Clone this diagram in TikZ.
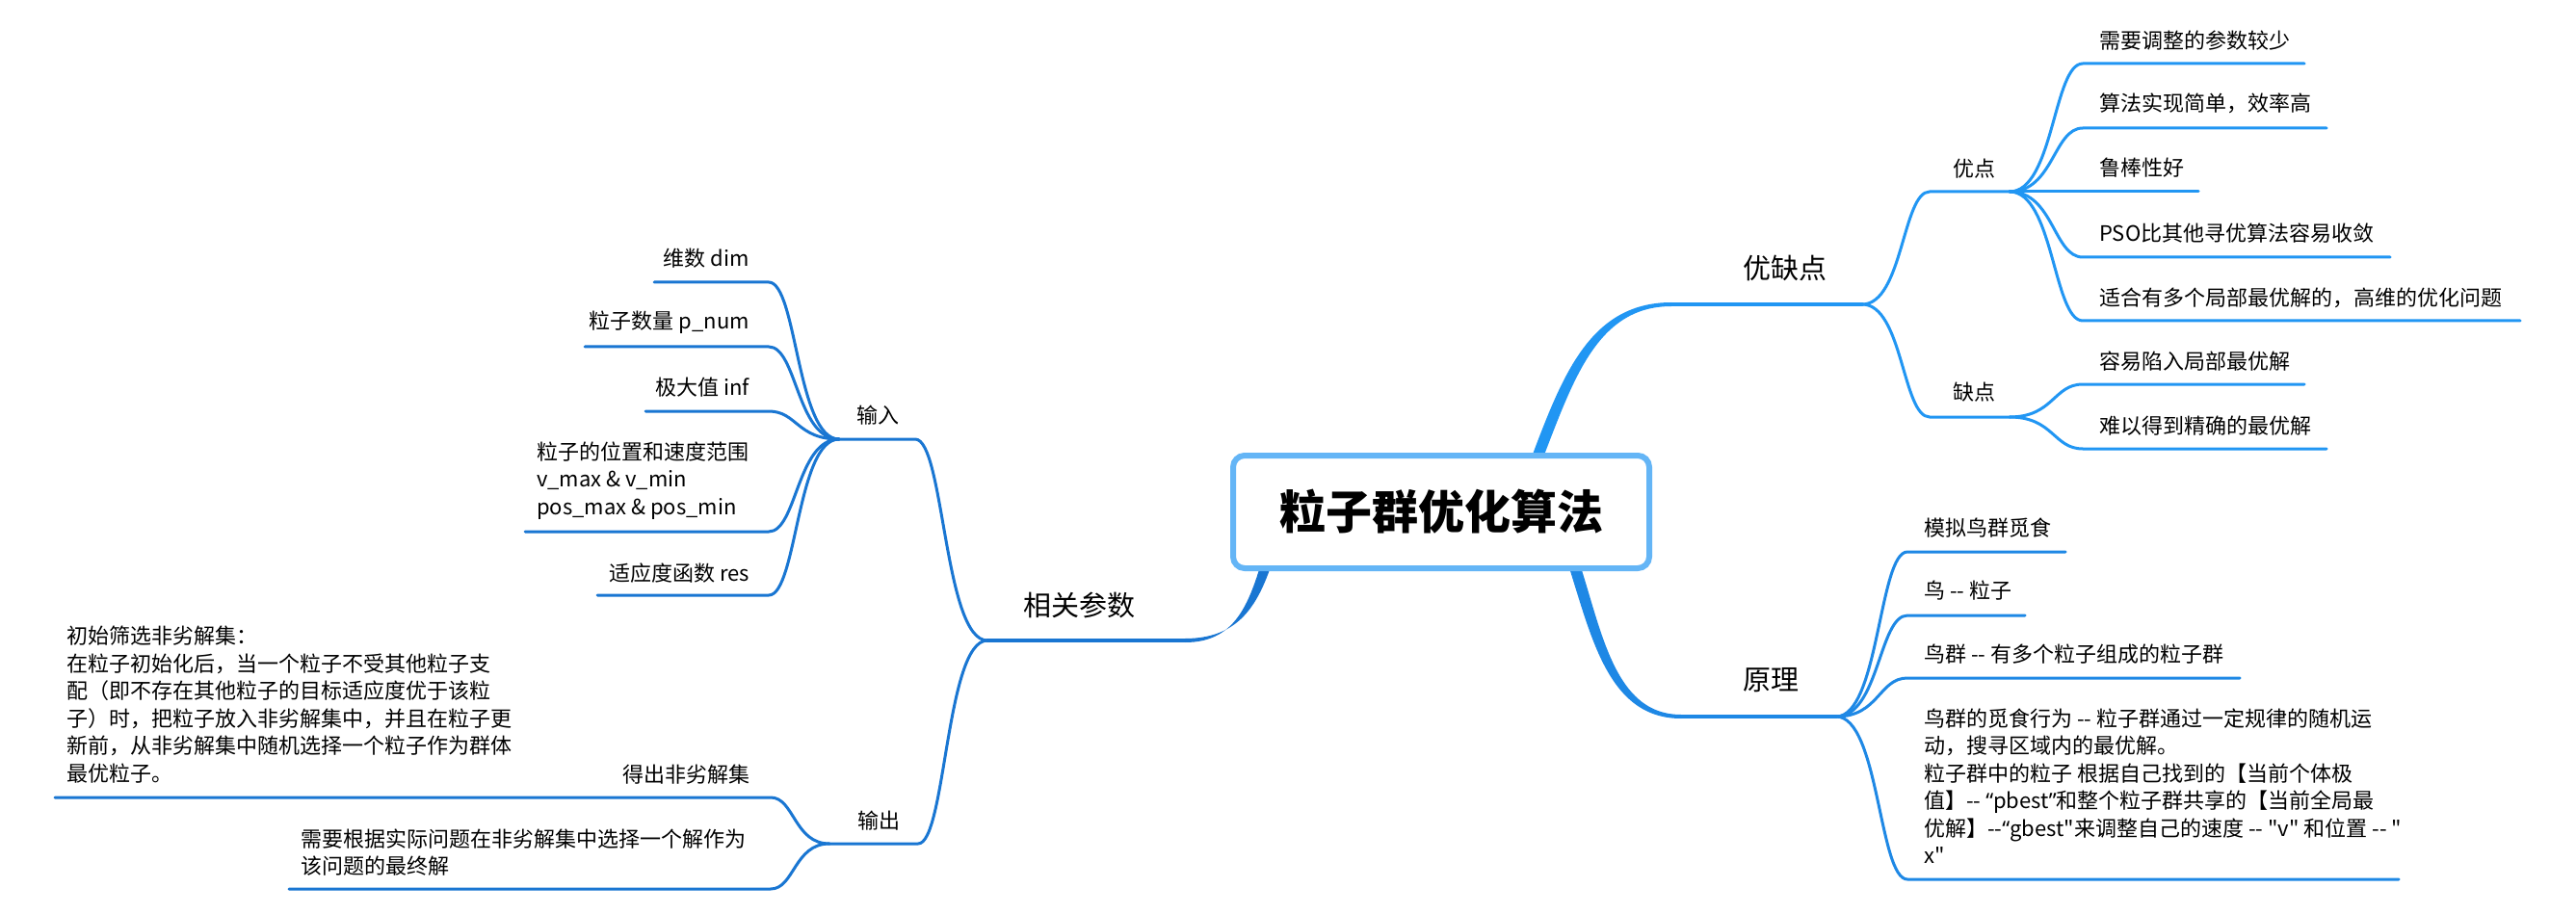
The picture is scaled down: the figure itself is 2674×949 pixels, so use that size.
\documentclass[tikz,border=0pt]{standalone}
\usepackage{fontspec}
\setmainfont{Noto Sans CJK SC}
\newfontfamily\quotefont{Noto Sans}
% same face without the TeX ligature mapping, for straight double quotes
\newfontfamily\plainquote{Noto Sans CJK SC}
\usetikzlibrary{calc}

\definecolor{leftblue}{RGB}{25,118,210}
\definecolor{rightblue}{RGB}{33,150,243}
\definecolor{midblue}{RGB}{30,136,229}
\definecolor{rootblue}{RGB}{100,181,246}

\newcommand{\qopen}{{\quotefont “}}
\newcommand{\qclose}{{\quotefont ”}}
\newcommand{\qstraight}{{\plainquote "}}

\begin{document}
\begin{tikzpicture}[x=1pt,y=-1pt,
  leaf/.style={font=\fontsize{22}{28.5}\selectfont, inner sep=0pt, align=left},
  subtopic/.style={font=\fontsize{22}{28}\selectfont, inner sep=0pt},
  topic/.style={font=\fontsize{29}{34}\selectfont, inner sep=0pt},
  wire/.style={line width=3pt, line cap=round},
  mainwire/.style={line width=4pt, line cap=round},
  sbranch/.style={to path={
    .. controls ($(\tikztostart)!0.6!(\tikztotarget |- \tikztostart)$)
    and ($(\tikztotarget)!0.4!(\tikztostart |- \tikztotarget)$) .. (\tikztotarget)}},
]
\fill[white] (0,0) rectangle (2674,949);
\useasboundingbox (0,0) rectangle (2674,949);

% ---------- anchor points of the map ----------
\coordinate (rootC) at (1496,531.5);
% right side: advantages / disadvantages
\coordinate (yqR) at (1590,490);
\coordinate (yqA) at (1735,316);  \coordinate (yqB) at (1933,316);
\coordinate (ydA) at (2003,199);  \coordinate (ydB) at (2086,199);
\coordinate (qdA) at (2003,433);  \coordinate (qdB) at (2086,433);
\coordinate (pOneA) at (2162,66);    \coordinate (pOneB) at (2392,66);
\coordinate (pTwoA) at (2162,133);   \coordinate (pTwoB) at (2415,133);
\coordinate (pThrA) at (2162,199);   \coordinate (pThrB) at (2282,199);
\coordinate (pFouA) at (2162,267);   \coordinate (pFouB) at (2481,267);
\coordinate (pFivA) at (2162,333);   \coordinate (pFivB) at (2616,333);
\coordinate (qOneA) at (2162,399);   \coordinate (qOneB) at (2392,399);
\coordinate (qTwoA) at (2162,466);   \coordinate (qTwoB) at (2415,466);
% right side: principle
\coordinate (ylR) at (1625,560);
\coordinate (ylA) at (1745,744);  \coordinate (ylB) at (1906,744);
\coordinate (rOneA) at (1980,573);   \coordinate (rOneB) at (2144,573);
\coordinate (rTwoA) at (1980,639);   \coordinate (rTwoB) at (2102,639);
\coordinate (rThrA) at (1980,704);   \coordinate (rThrB) at (2325,704);
\coordinate (rFouA) at (1980,913);   \coordinate (rFouB) at (2490,913);
% left side: parameters
\coordinate (csR) at (1322,560);
\coordinate (csA) at (1230,665);  \coordinate (csB) at (1025,665);
\coordinate (srA) at (950,456);   \coordinate (srB) at (871,456);
\coordinate (scA) at (953,876);   \coordinate (scB) at (861,876);
\coordinate (iOneA) at (798,293);   \coordinate (iOneB) at (679,293);
\coordinate (iTwoA) at (798,360);   \coordinate (iTwoB) at (607,360);
\coordinate (iThrA) at (798,427);   \coordinate (iThrB) at (670,427);
\coordinate (iFouA) at (798,552);   \coordinate (iFouB) at (545,552);
\coordinate (iFivA) at (798,618);   \coordinate (iFivB) at (620,618);
\coordinate (oOneA) at (800,828);   \coordinate (oOneB) at (57,828);
\coordinate (oTwoA) at (800,923);   \coordinate (oTwoB) at (300,923);

% ---------- tapered main branches out of the root ----------
\fill[rightblue] ([xshift=-6pt]yqR) .. controls +(35,-92) and +(-89,0) .. ([yshift=2pt]yqA)
  -- ([yshift=-2pt]yqA) .. controls +(-81,0) and +(35,-88) .. ([xshift=6pt]yqR) -- cycle;
\fill[midblue] ([xshift=-6pt]ylR) .. controls +(30,82) and +(-84,0) .. ([yshift=-2pt]ylA)
  -- ([yshift=2pt]ylA) .. controls +(-76,0) and +(30,78) .. ([xshift=6pt]ylR) -- cycle;
\fill[leftblue] ([xshift=6pt]csR) .. controls +(-17,58) and +(64,0) .. ([yshift=2pt]csA)
  -- ([yshift=-2pt]csA) .. controls +(56,0) and +(-17,62) .. ([xshift=-6pt]csR) -- cycle;

% ---------- branch lines ----------
\draw[mainwire, rightblue] (yqA) -- (yqB);
\draw[wire, rightblue] (yqB) to[sbranch] (ydA) -- (ydB);
\draw[wire, rightblue] (yqB) to[sbranch] (qdA) -- (qdB);
\foreach \a/\b in {pOneA/pOneB, pTwoA/pTwoB, pThrA/pThrB, pFouA/pFouB, pFivA/pFivB}
  \draw[wire, rightblue] (ydB) to[sbranch] (\a) -- (\b);
\foreach \a/\b in {qOneA/qOneB, qTwoA/qTwoB}
  \draw[wire, rightblue] (qdB) to[sbranch] (\a) -- (\b);

\draw[mainwire, midblue] (ylA) -- (ylB);
\foreach \a/\b in {rOneA/rOneB, rTwoA/rTwoB, rThrA/rThrB, rFouA/rFouB}
  \draw[wire, midblue] (ylB) to[sbranch] (\a) -- (\b);

\draw[mainwire, leftblue] (csA) -- (csB);
\draw[wire, leftblue] (csB) to[sbranch] (srA) -- (srB);
\draw[wire, leftblue] (csB) to[sbranch] (scA) -- (scB);
\foreach \a/\b in {iOneA/iOneB, iTwoA/iTwoB, iThrA/iThrB, iFouA/iFouB, iFivA/iFivB}
  \draw[wire, leftblue] (srB) to[sbranch] (\a) -- (\b);
\foreach \a/\b in {oOneA/oOneB, oTwoA/oTwoB}
  \draw[wire, leftblue] (scB) to[sbranch] (\a) -- (\b);

% ---------- central topic ----------
\node[draw=rootblue, line width=6pt, rounded corners=12pt, fill=white,
      minimum width=432pt, minimum height=117pt, inner sep=0pt,
      font=\fontsize{48}{56}\selectfont\bfseries] (root) at (rootC) {粒子群优化算法};

% ---------- texts: advantages / disadvantages ----------
\node[topic] (tyq) at (1853,278) {优缺点};
\node[subtopic] (tyd) at (2049,175) {优点};
\node[subtopic] (tqd) at (2049,407) {缺点};
\node[leaf, anchor=west] (tp1) at (2179,42) {需要调整的参数较少};
\node[leaf, anchor=west] (tp2) at (2179,107) {算法实现简单，效率高};
\node[leaf, anchor=west] (tp3) at (2179,174) {鲁棒性好};
\node[leaf, anchor=west] (tp4) at (2179,242) {PSO比其他寻优算法容易收敛};
\node[leaf, anchor=west] (tp5) at (2179,309) {适合有多个局部最优解的，高维的优化问题};
\node[leaf, anchor=west] (tq1) at (2179,375) {容易陷入局部最优解};
\node[leaf, anchor=west] (tq2) at (2179,442) {难以得到精确的最优解};

% ---------- texts: principle ----------
\node[topic] (tyl) at (1838,706) {原理};
\node[leaf, anchor=west] (tr1) at (1997,548) {模拟鸟群觅食};
\node[leaf, anchor=west] (tr2) at (1997,613) {鸟 -{}- 粒子};
\node[leaf, anchor=west] (tr3) at (1997,679) {鸟群 -{}- 有多个粒子组成的粒子群};
\node[leaf, anchor=west] (tr4) at (1997,816) {鸟群的觅食行为 -{}- 粒子群通过一定规律的随机运\\
动，搜寻区域内的最优解。\\
粒子群中的粒子 根据自己找到的【当前个体极\\
值】-{}- \qopen pbest\qclose 和整个粒子群共享的【当前全局最\\
优解】-{}-\qopen gbest\qstraight 来调整自己的速度 -{}- \qstraight v\qstraight\ 和位置 -{}- \qstraight\\
x\qstraight};

% ---------- texts: parameters ----------
\node[topic] (tcs) at (1120,628) {相关参数};
\node[subtopic] (tsr) at (911,431) {输入};
\node[subtopic] (tsc) at (912,852) {输出};
\node[leaf, anchor=east] (ti1) at (778,268) {维数 dim};
\node[leaf, anchor=east] (ti2) at (778,335) {粒子数量 p\_num};
\node[leaf, anchor=east] (ti3) at (778,402) {极大值 inf};
\node[leaf, anchor=west] (ti4) at (557,499) {粒子的位置和速度范围\\
v\_max \& v\_min\\
pos\_max \& pos\_min};
\node[leaf, anchor=east] (ti5) at (778,595) {适应度函数 res};
\node[leaf, anchor=west] (tnote) at (69,731.5) {初始筛选非劣解集：\\
在粒子初始化后，当一个粒子不受其他粒子支\\
配（即不存在其他粒子的目标适应度优于该粒\\
子）时，把粒子放入非劣解集中，并且在粒子更\\
新前，从非劣解集中随机选择一个粒子作为群体\\
最优粒子。};
\node[leaf, anchor=east] (to1) at (779,804) {得出非劣解集};
\node[leaf, anchor=west] (to2) at (312,885) {需要根据实际问题在非劣解集中选择一个解作为\\
该问题的最终解};
\end{tikzpicture}
\end{document}
